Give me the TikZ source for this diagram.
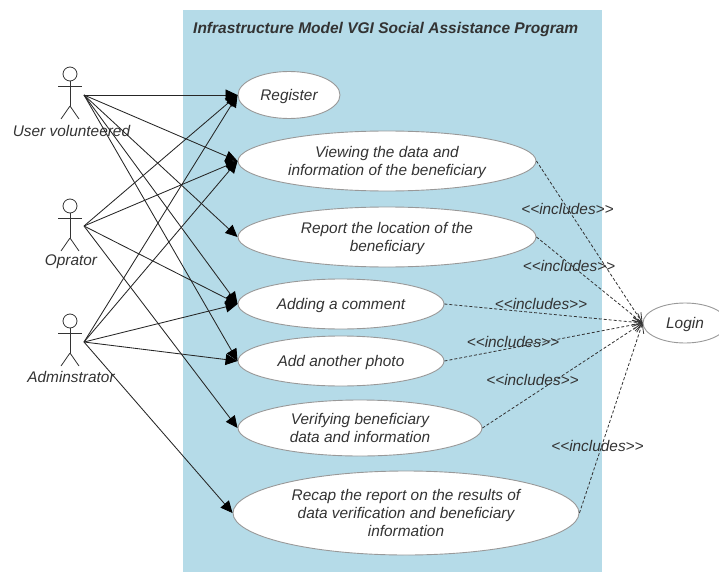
\documentclass[tikz,border=0pt]{standalone}
\usepackage{fontspec}
\setmainfont{Liberation Sans}
\usetikzlibrary{arrows.meta,shapes.geometric}
\definecolor{panel}{HTML}{B5DBE8}
\definecolor{ink}{HTML}{333333}
\tikzset{
 x=1pt,y=-1pt,
 usecase/.style={ellipse,draw=black!40,line width=0.9pt,fill=white,inner sep=0pt,align=center,text=ink,text depth=0pt,font=\itshape\fontsize{15.4}{18}\selectfont},
 lbl/.style={text=ink,inner sep=0pt,font=\itshape\fontsize{15.4}{18}\selectfont},
 assoc/.style={draw=black!85,line width=0.85pt,-{Triangle[length=12pt,width=11pt,color=black]}},
 incl/.style={draw=black!80,line width=0.8pt,densely dashed,-{Straight Barb[length=9pt,width=9pt]}},
 stick/.style={draw=black!80,line width=0.8pt},
 pics/actor/.style={code={
   \draw[stick] (0,-21) circle (7);
   \draw[stick] (0,-14) -- (0,11);
   \draw[stick] (-12,-9) -- (12,-9);
   \draw[stick] (0,11) -- (-9,24);
   \draw[stick] (0,11) -- (9,24);
 }}
}
\begin{document}
\begin{tikzpicture}
\useasboundingbox (0,0) rectangle (719,572);
\fill[panel] (183,10) rectangle (602,572);
\node[lbl,anchor=west,font=\bfseries\itshape\fontsize{15.5}{18}\selectfont] (title) at (193,29) {Infrastructure Model VGI Social Assistance Program};

\node[usecase,minimum width=102pt,minimum height=47pt] (reg) at (289,95) {Register};
\node[usecase,minimum width=298pt,minimum height=60pt] (view) at (387,161) {Viewing the data and\\information of the beneficiary};
\node[usecase,minimum width=298pt,minimum height=60pt] (rep) at (387,237) {Report the location of the\\beneficiary};
\node[usecase,minimum width=206pt,minimum height=50pt] (add) at (341,304) {Adding a comment};
\node[usecase,minimum width=206pt,minimum height=50pt] (photo) at (341,361) {Add another photo};
\node[usecase,minimum width=244pt,minimum height=56pt] (ver) at (360,428) {Verifying beneficiary\\data and information};
\node[usecase,minimum width=346pt,minimum height=84pt] (recap) at (406,513) {Recap the report on the results of\\data verification and beneficiary\\information};
\node[usecase,minimum width=84pt,minimum height=40pt] (login) at (685,323) {Login};

\pic at (70,95) {actor};
\pic at (70,227) {actor};
\pic at (70,342) {actor};
\coordinate (u) at (84,95);
\coordinate (o) at (84,226);
\coordinate (a) at (84,342);
\node[lbl] (ul) at (71.5,131) {User volunteered};
\node[lbl] (ol) at (71,262) {Oprator};
\node[lbl] (al) at (71,377) {Adminstrator};

\foreach \s/\t in {u/reg,u/view,u/rep,u/add,u/photo,o/reg,o/view,o/add,o/ver,a/reg,a/view,a/add,a/photo,a/recap}
  \draw[assoc] (\s) -- (\t.west);

\foreach \t in {view,rep,add,photo,ver,recap}
  \draw[incl] (\t.east) -- (login.west);

\node[lbl] (i1) at (567.5,209) {<{}<includes>{}>};
\node[lbl] (i2) at (569,266) {<{}<includes>{}>};
\node[lbl] (i3) at (541,304) {<{}<includes>{}>};
\node[lbl] (i4) at (513,342) {<{}<includes>{}>};
\node[lbl] (i5) at (532.5,380) {<{}<includes>{}>};
\node[lbl] (i6) at (597.5,446) {<{}<includes>{}>};
\end{tikzpicture}
\end{document}
